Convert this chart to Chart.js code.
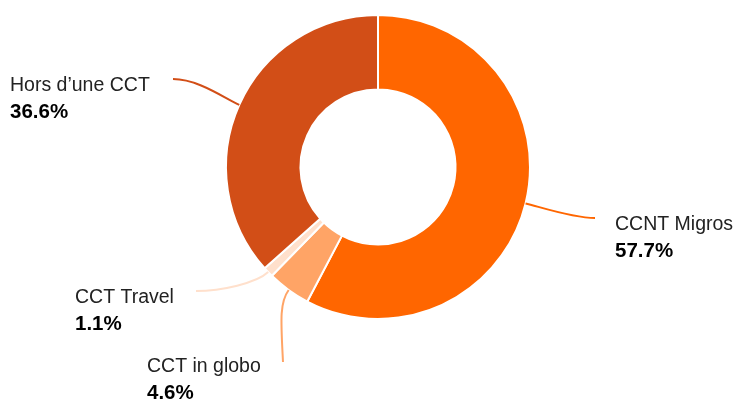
<!DOCTYPE html>
<html>
<head>
<meta charset="utf-8">
<script src="https://cdn.jsdelivr.net/npm/chart.js@4/dist/chart.umd.min.js"></script>
<style>
    html, body { margin: 0; padding: 0; background: #fff; }
    #wrap { position: relative; width: 733px; height: 402px; }
</style>
</head>
<body>
<div id="wrap"><canvas id="cctChart"></canvas></div>
<script>
// Data (share of employees by collective agreement)
const categories = ['CCNT Migros', 'CCT in globo', 'CCT Travel', 'Hors d\u2019une CCT'];
const shares = [57.7, 4.6, 1.1, 36.6];
const sliceColors = ['#ff6600', '#ffa466', '#ffe0cc', '#d24e17'];

// Where each label sits and how its leader line ends (layout only)
const labelLayout = [
    { x: 615, y: 230, endX: 595, endY: 218, dir: 'h' },  // CCNT Migros
    { x: 147, y: 372, endX: 283, endY: 362, dir: 'v' },  // CCT in globo
    { x: 75,  y: 303, endX: 196, endY: 291, dir: 'h' },  // CCT Travel
    { x: 10,  y: 91,  endX: 173, endY: 79,  dir: 'h' }   // Hors d'une CCT
];

// Draws the curved leader lines + labels outside the ring
const leaderLabels = {
    id: 'leaderLabels',
    afterDatasetsDraw(chart) {
        const ctx = chart.ctx;
        const meta = chart.getDatasetMeta(0);
        ctx.save();
        meta.data.forEach((arc, i) => {
            const lay = labelLayout[i];
            const mid = (arc.startAngle + arc.endAngle) / 2;
            const r = arc.outerRadius;
            const sx = arc.x + Math.cos(mid) * r;
            const sy = arc.y + Math.sin(mid) * r;
            const c1x = arc.x + Math.cos(mid) * (r + 16);
            const c1y = arc.y + Math.sin(mid) * (r + 16);
            let c2x, c2y;
            if (lay.dir === 'v') {
                c2x = lay.endX - 2;
                c2y = lay.endY - 40;
            } else {
                c2x = lay.endX + (sx > lay.endX ? 25 : -22);
                c2y = lay.endY;
            }
            ctx.beginPath();
            ctx.moveTo(sx, sy);
            ctx.bezierCurveTo(c1x, c1y, c2x, c2y, lay.endX, lay.endY);
            ctx.strokeStyle = sliceColors[i];
            ctx.lineWidth = 2;
            ctx.stroke();

            ctx.textAlign = 'left';
            ctx.textBaseline = 'alphabetic';
            ctx.fillStyle = '#222';
            ctx.font = '19.5px "Liberation Sans", Arial, sans-serif';
            ctx.fillText(categories[i], lay.x, lay.y);
            ctx.fillStyle = '#000';
            ctx.font = 'bold 20.5px "Liberation Sans", Arial, sans-serif';
            ctx.fillText(shares[i].toFixed(1) + '%', lay.x, lay.y + 27);
        });
        ctx.restore();
    }
};

new Chart(document.getElementById('cctChart').getContext('2d'), {
    type: 'doughnut',
    data: {
        labels: categories,
        datasets: [{
            data: shares,
            backgroundColor: sliceColors,
            borderColor: '#ffffff',
            borderWidth: 2
        }]
    },
    options: {
        responsive: true,
        maintainAspectRatio: false,
        animation: false,
        cutout: '51%',
        layout: {
            padding: { left: 225, right: 202, top: 14, bottom: 82 }
        },
        plugins: {
            legend: { display: false },
            tooltip: { enabled: false }
        }
    },
    plugins: [leaderLabels]
});
</script>
</body>
</html>
